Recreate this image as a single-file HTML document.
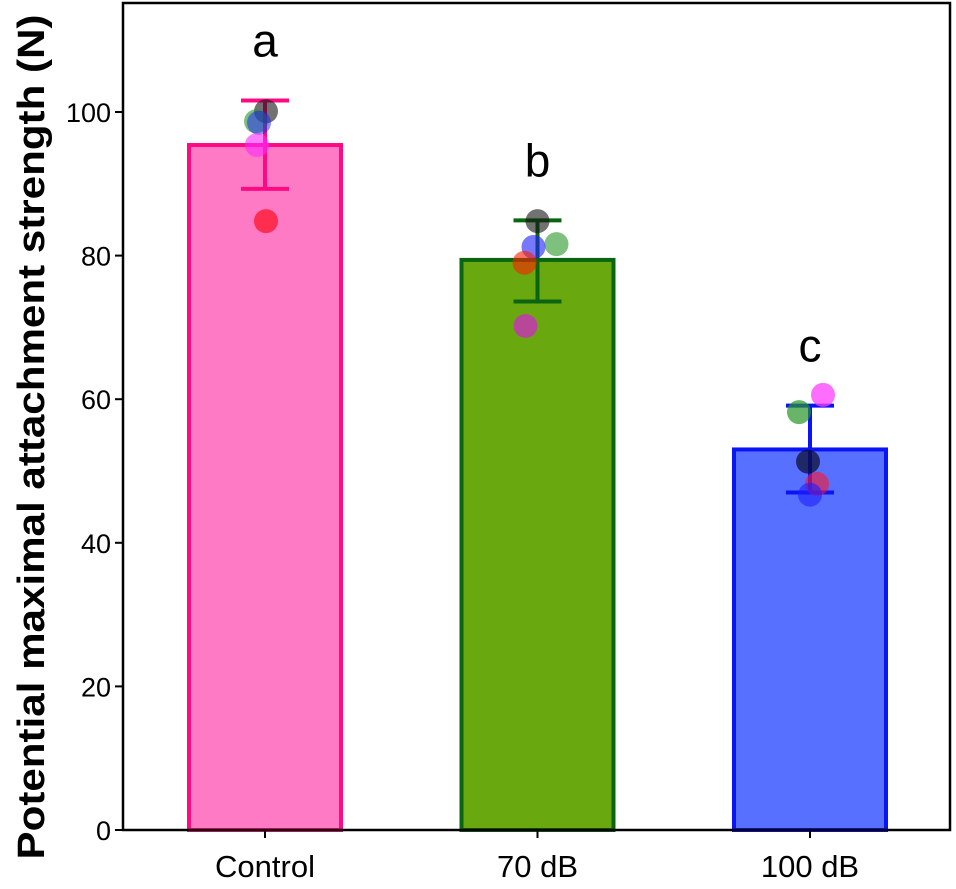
<!DOCTYPE html>
<html><head><meta charset="utf-8"><style>body{margin:0;background:#fff}svg{display:block;font-family:"Liberation Sans",Arial,sans-serif}</style></head>
<body>
<svg id="chart" width="956" height="889"></svg>
<script>
const categories=["Control","70 dB","100 dB"];
const means=[95.4,79.4,53.0];
const errHigh=[101.6,84.9,59.1];
const errLow=[89.3,73.6,47.0];
const letters=["a","b","c"];
const points=[[100.1,98.7,98.5,95.4,84.8],[84.8,81.6,81.2,79.0,70.2],[60.6,58.2,51.3,48.2,46.7]];
const pointOffsets=[[1,-9,-6,-8,1],[0,19,-4,-13,-12],[13,-11,-2,7,0]];
const pointColors=[
 ["rgba(20,20,20,0.6)","rgba(40,150,40,0.6)","rgba(30,30,255,0.5)","rgba(255,40,255,0.6)","rgba(255,20,40,0.75)"],
 ["rgba(20,20,20,0.6)","rgba(40,150,40,0.6)","rgba(30,30,255,0.6)","rgba(255,30,0,0.6)","rgba(210,40,200,0.75)"],
 ["rgba(255,60,255,0.75)","rgba(40,150,40,0.7)","rgba(10,10,40,0.7)","rgba(255,20,40,0.6)","rgba(30,30,255,0.6)"]];
const yTicks=[0,20,40,60,80,100];
const fills=["#ff7ac4","#6aa80f","#5870ff"],edges=["#ff0a84","#0b6410","#0a14f5"];
const svg=document.getElementById('chart'),NS="http://www.w3.org/2000/svg";
const L=123,R=950,T=3,B=830;
const y=v=>B-v*7.18;
const cx=i=>265+i*272.5;
function mk(t,a,p){const e=document.createElementNS(NS,t);for(const k in a)e.setAttribute(k,a[k]);(p||svg).appendChild(e);return e;}
categories.forEach((c,i)=>{
 const g=mk('g',{});
 
 
 const r=mk('rect',{x:cx(i)-76,y:y(means[i]),width:152,height:B-y(means[i]),fill:fills[i],stroke:edges[i],'stroke-width':4},g);
 
 
 const eb=mk('path',{d:`M${cx(i)},${y(errHigh[i])}V${y(errLow[i])}M${cx(i)-24},${y(errHigh[i])}h48M${cx(i)-24},${y(errLow[i])}h48`,stroke:edges[i],'stroke-width':4,fill:'none'},g);
 
 
 points[i].forEach((v,j)=>{
  const p=mk('circle',{cx:cx(i)+pointOffsets[i][j],cy:y(v),r:12,fill:pointColors[i][j]},g);
  
  
 });
 const lt=mk('text',{x:cx(i),y:y(errHigh[i])-44,'text-anchor':'middle','font-size':46},g);
 lt.textContent=letters[i];
 
 
 const tk=mk('line',{x1:cx(i),x2:cx(i),y1:B,y2:B+8,stroke:'#000','stroke-width':2});
 
 
 const xl=mk('text',{x:cx(i),y:B+47,'text-anchor':'middle','font-size':31});
 xl.textContent=c;
 
 
});
yTicks.forEach(v=>{
 const t=mk('line',{x1:L-8,x2:L,y1:y(v),y2:y(v),stroke:'#000','stroke-width':2});
 
 
 const tl=mk('text',{x:L-12,y:y(v)+10,'text-anchor':'end','font-size':27});
 tl.textContent=v;
 
 
});
const fr=mk('rect',{x:L,y:T,width:R-L,height:B-T,fill:'none',stroke:'#000','stroke-width':2.5});


const yt=mk('text',{x:0,y:0,transform:`translate(44,437) rotate(-90)`,'text-anchor':'middle','font-size':38,'font-weight':'bold',textLength:845,lengthAdjust:'spacingAndGlyphs'});
yt.textContent='Potential maximal attachment strength (N)';


</script>
</body></html>
